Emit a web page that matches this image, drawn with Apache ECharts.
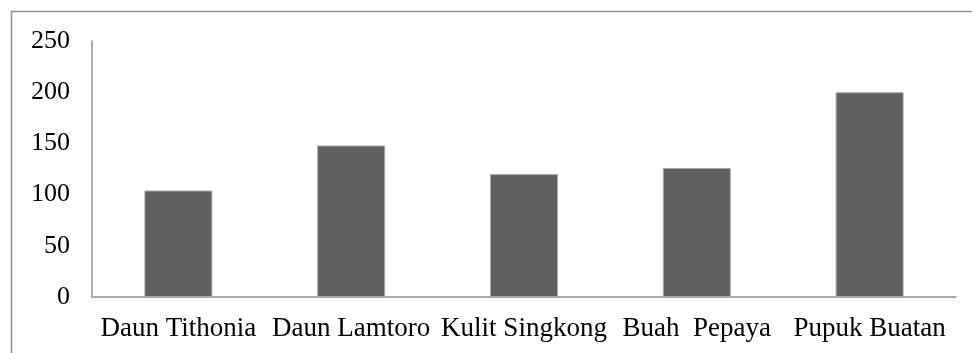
<!DOCTYPE html>
<html>
<head>
<meta charset="utf-8">
<script src="https://cdn.jsdelivr.net/npm/echarts@6/dist/echarts.min.js"></script>
<style>
  html, body { margin: 0; padding: 0; background: #fff; }
  #chart { width: 972px; height: 353px; }
</style>
</head>
<body>
<div id="chart"></div>
<script>
// Categories and values
const categories = ['Daun Tithonia', 'Daun Lamtoro', 'Kulit Singkong', 'Buah  Pepaya', 'Pupuk Buatan'];
const values = [104, 148, 120, 126, 200];
const yTicks = { min: 0, max: 250, interval: 50 };

const chart = echarts.init(document.getElementById('chart'), null, { renderer: 'canvas' });
const font = '"Liberation Serif", "Times New Roman", serif';

chart.setOption({
  animation: false,
  backgroundColor: '#ffffff',
  graphic: [{
    type: 'rect',
    shape: { x: 11.5, y: 11.5, width: 1000, height: 400 },
    style: { fill: 'none', stroke: '#8e8e8e', lineWidth: 1.5 },
    silent: true
  }],
  grid: { left: 92, right: 16, top: 41, bottom: 56, containLabel: false },
  xAxis: {
    type: 'category',
    data: categories,
    axisLine: { show: true, lineStyle: { color: '#8e8e8e', width: 1.5 } },
    axisTick: { show: false },
    axisLabel: { color: '#000', fontFamily: font, fontSize: 27, margin: 18, interval: 0 },
    splitLine: { show: false }
  },
  yAxis: {
    type: 'value',
    min: yTicks.min,
    max: yTicks.max,
    interval: yTicks.interval,
    axisLine: { show: true, lineStyle: { color: '#8e8e8e', width: 1.5 } },
    axisTick: { show: false },
    axisLabel: { color: '#000', fontFamily: font, fontSize: 26, margin: 22 },
    splitLine: { show: false }
  },
  series: [{
    type: 'bar',
    data: values,
    barWidth: 68,
    itemStyle: { color: '#606060', borderColor: '#a8a8a8', borderWidth: 1 }
  }]
});
</script>
</body>
</html>
